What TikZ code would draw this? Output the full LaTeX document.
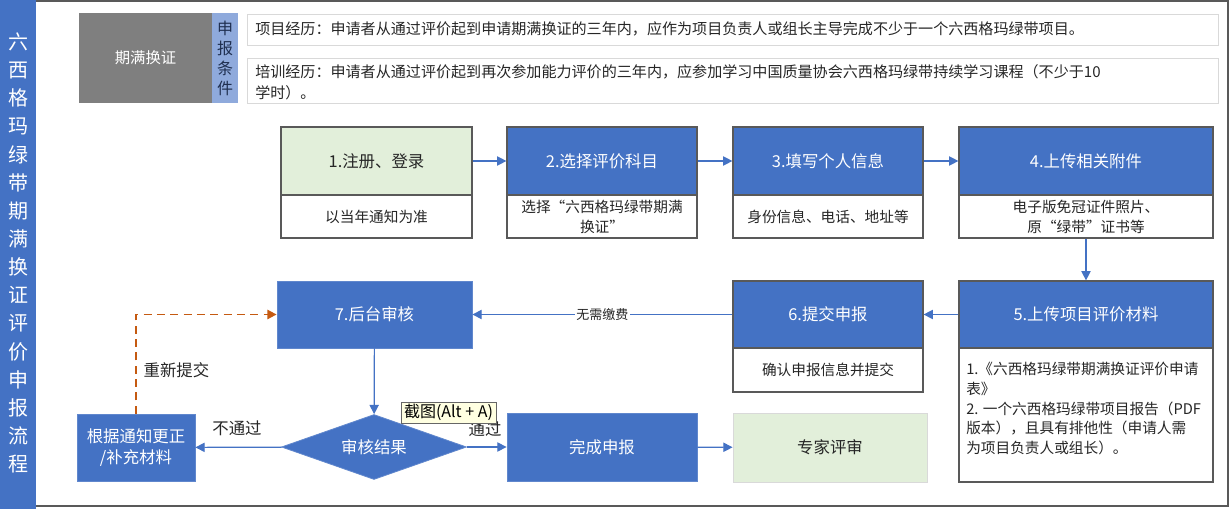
\documentclass[tikz,border=0pt]{standalone}
\usepackage{fontspec}
\setmainfont{Noto Sans CJK SC}
\usetikzlibrary{arrows.meta,shapes.geometric}
\definecolor{mblue}{HTML}{4472C4}
\definecolor{lblue}{HTML}{8FAADC}
\definecolor{mgreen}{HTML}{E2EFDA}
\definecolor{morange}{HTML}{C55A11}
\definecolor{mgray}{HTML}{7F7F7F}
\definecolor{frame}{HTML}{595959}
\definecolor{tipyellow}{HTML}{FFFFE1}
\definecolor{lgray}{HTML}{D9D9D9}
\definecolor{navy}{HTML}{1F2F50}
\AtBeginDocument{\lineskiplimit=-100pt\relax}
\tikzset{
  area/.style args={#1/#2/#3/#4}{minimum width={(#3-#1)*0.75pt}, minimum height={(#4-#2)*0.75pt}, at={({(#1+#3)/2},{(#2+#4)/2})}},
  toppart/.style={fill=mblue, draw=frame, line width=0.9pt, inner sep=0pt, text=white, font=\fontsize{12.3}{14}\selectfont},
  greentop/.style={fill=mgreen, draw=frame, line width=0.9pt, inner sep=0pt, text=black!85, font=\fontsize{12.3}{14}\selectfont},
  botpart/.style={fill=white, draw=frame, line width=0.9pt, inner sep=0pt, text=black!85, align=center, font=\fontsize{11}{15}\selectfont},
  bluebox/.style={fill=mblue, draw=mblue!85!white, line width=0.6pt, inner sep=0pt, text=white, align=center, font=\fontsize{12.3}{16}\selectfont},
  greenbox/.style={fill=mgreen, draw=lgray, line width=0.6pt, inner sep=0pt, text=black!85, font=\fontsize{12.3}{14}\selectfont},
  textbox/.style={fill=white, draw=lgray, line width=0.6pt, inner sep=0pt},
  flow/.style={draw=mblue, line width=0.9pt, -{Triangle[length=7pt,width=7pt]}},
  redo/.style={draw=morange, line width=1.4pt, dash pattern=on 6pt off 4pt, -{Triangle[length=7pt,width=7pt]}},
  lbl/.style={text=black!85, font=\fontsize{12.3}{14}\selectfont, inner sep=1pt},
}
\begin{document}
\begin{tikzpicture}[x=0.75pt,y=-0.75pt]
\useasboundingbox (0,0) rectangle (1232,509);
\fill[white] (0,0) rectangle (1232,509);
% side bar and frame
\fill[mblue] (0,0) rectangle (36,509);
\draw[frame, line width=0.9pt] (36,1) -- (1228,1) -- (1228,506) -- (36,506);
\node[text=white, align=center, inner sep=0pt, font=\fontsize{15}{21.1}\selectfont] (title) at (18,253)
  {六\\西\\格\\玛\\绿\\带\\期\\满\\换\\证\\评\\价\\申\\报\\流\\程};
% header
\node[fill=mgray, inner sep=0pt, text=white, font=\fontsize{11.5}{14}\selectfont, area=79/13/212/103] (renew) {期满换证};
\node[fill=lblue, inner sep=0pt, text=navy, align=center, font=\fontsize{12}{15}\selectfont, area=212/13/238/103] (cond) {申\\报\\条\\件};
\node[textbox, area=247/14/1218/45] (req1) {};
\node[textbox, area=247/58/1218/103] (req2) {};
\node[anchor=west, inner sep=0pt, text=black!85, font=\fontsize{11.3}{14}\selectfont] (t1) at (255,29)
  {项目经历：申请者从通过评价起到申请期满换证的三年内，应作为项目负责人或组长主导完成不少于一个六西格玛绿带项目。};
\node[anchor=west, inner sep=0pt, align=left, text=black!85, font=\fontsize{11.3}{15.75}\selectfont] (t2) at (255,82.5)
  {培训经历：申请者从通过评价起到再次参加能力评价的三年内，应参加学习中国质量协会六西格玛绿带持续学习课程（不少于10\\学时）。};
% row 1
\node[greentop, area=281/127/472/195] (b1) {1.注册、登录};
\node[botpart, area=281/195/472/238] (b1s) {以当年通知为准};
\node[toppart, area=507/127/697/195] (b2) {2.选择评价科目};
\node[botpart, area=507/195/697/238] (b2s) {选择“六西格玛绿带期满\\换证”};
\node[toppart, area=733/127/923/195] (b3) {3.填写个人信息};
\node[botpart, area=733/195/923/238] (b3s) {身份信息、电话、地址等};
\node[toppart, area=959/127/1213/195] (b4) {4.上传相关附件};
\node[botpart, area=959/195/1213/238] (b4s) {电子版免冠证件照片、\\原“绿带”证书等};
% row 2
\node[toppart, area=959/281/1213/348] (b5) {5.上传项目评价材料};
\node[botpart, area=959/348/1213/482] (b5s) {};
\node[anchor=west, inner sep=0pt, align=left, text=black!85, font=\fontsize{11}{14.8}\selectfont] (b5t) at (966,408.5)
  {1.《六西格玛绿带期满换证评价申请\\表》\\2. 一个六西格玛绿带项目报告（PDF\\版本），且具有排他性（申请人需\\为项目负责人或组长）。};
\node[toppart, area=733/281/923/348] (b6) {6.提交申报};
\node[botpart, area=733/348/923/392] (b6s) {确认申报信息并提交};
\node[bluebox, area=277/281/472/348] (b7) {7.后台审核};
% row 3
\node[diamond, aspect=2.85, fill=mblue, draw=mblue!85!white, line width=0.6pt, inner sep=0pt,
  minimum width=138.75pt, minimum height=48.75pt, text=white, font=\fontsize{12.3}{14}\selectfont] (dia) at (374,447) {审核结果};
\node[bluebox, area=77/414/195/481] (fix) {根据通知更正\\/补充材料};
\node[bluebox, area=507/413/697/481] (done) {完成申报};
\node[greenbox, area=733/413/927/482] (expert) {专家评审};
% connectors
\draw[flow] (b1) -- (b2);
\draw[flow] (b2) -- (b3);
\draw[flow] (b3) -- (b4);
\draw[flow] (b4s) -- (b5);
\draw[flow] (b5) -- (b6);
\draw[flow] (b6) -- node[fill=white, inner sep=1pt, text=black!85, font=\fontsize{9.75}{12}\selectfont] (fee) {无需缴费} (b7);
\draw[flow] (b7) -- (dia);
\draw[flow] (dia) -- (fix);
\draw[flow] (dia) -- (done);
\draw[flow] (done) -- (expert);
\draw[redo] (fix.north) |- (b7.west);
\node[lbl, anchor=west] (resub) at (142,370) {重新提交};
\node[lbl] (fail) at (237,428) {不通过};
\node[lbl] (pass) at (485,429) {通过};
% tooltip
\node[draw=black!60, fill=tipyellow, line width=0.6pt, inner sep=0pt, text=black, font=\fontsize{12}{14}\selectfont, area=401/402/496/423] (tip) {截图(Alt + A)};
\end{tikzpicture}
\end{document}
